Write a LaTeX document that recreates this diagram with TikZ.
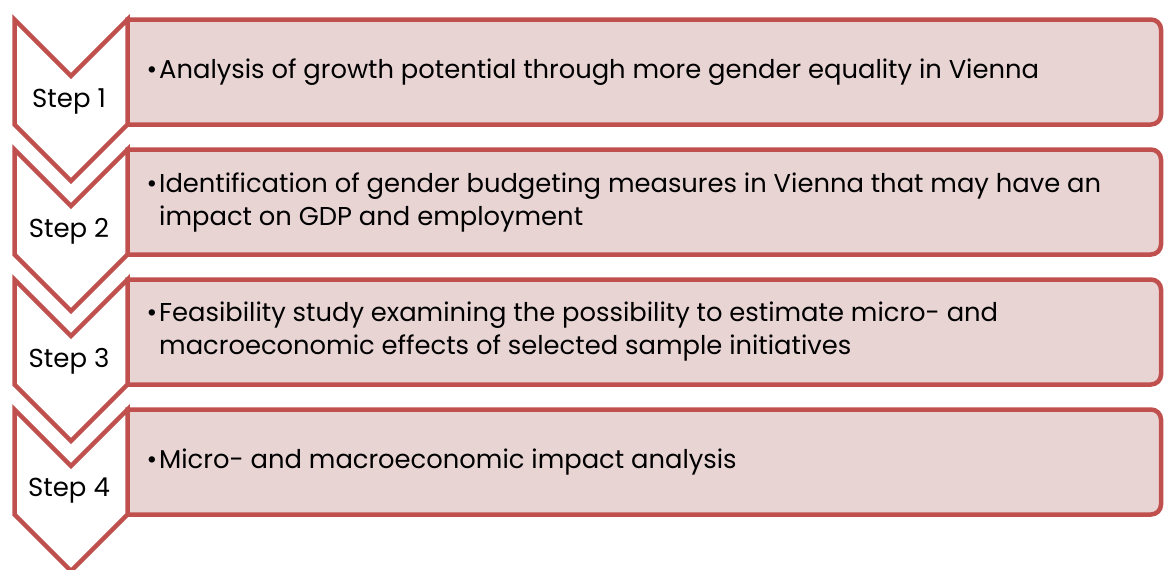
\documentclass[tikz,border=0pt]{standalone}
\usepackage{fontspec}
\setmainfont{Poppins}
\definecolor{stepred}{HTML}{C0504D}
\definecolor{steppink}{HTML}{E9D4D4}

\begin{document}
\begin{tikzpicture}[x=1pt,y=-1pt,
	stepbox/.style={draw=stepred,fill=steppink,line width=4.5pt},
	chevron/.style={draw=stepred,fill=white,line width=4.5pt},
	steplabel/.style={font=\fontsize{26}{30}\selectfont,inner sep=0},
	steptext/.style={font=\fontsize{25.8}{33}\selectfont,align=left,anchor=west,inner sep=0}]
	\useasboundingbox (0,0) rectangle (1165,570);
	% boxes, rounded on the right only
	\draw[stepbox] (127.5,19.5) [rounded corners=10pt] -- (1161,19.5) -- (1161,124.5) [sharp corners] -- (127.5,124.5) -- cycle;
	\draw[stepbox] (127.5,149.5) [rounded corners=10pt] -- (1161,149.5) -- (1161,254.5) [sharp corners] -- (127.5,254.5) -- cycle;
	\draw[stepbox] (127.5,279.5) [rounded corners=10pt] -- (1161,279.5) -- (1161,384.5) [sharp corners] -- (127.5,384.5) -- cycle;
	\draw[stepbox] (127.5,409.5) [rounded corners=10pt] -- (1161,409.5) -- (1161,514.5) [sharp corners] -- (127.5,514.5) -- cycle;
	% chevrons
	\draw[chevron] (14.5,19.5) -- (71,76) -- (127.5,19.5) -- (127.5,124.5) -- (71,181) -- (14.5,124.5) -- cycle;
	\draw[chevron] (14.5,149.5) -- (71,206) -- (127.5,149.5) -- (127.5,254.5) -- (71,311) -- (14.5,254.5) -- cycle;
	\draw[chevron] (14.5,279.5) -- (71,336) -- (127.5,279.5) -- (127.5,384.5) -- (71,441) -- (14.5,384.5) -- cycle;
	\draw[chevron] (14.5,409.5) -- (71,466) -- (127.5,409.5) -- (127.5,514.5) -- (71,571) -- (14.5,514.5) -- cycle;
	% labels
	\node[steplabel] (step1) at (69,101) {Step 1};
	\node[steplabel] (step2) at (69,231) {Step 2};
	\node[steplabel] (step3) at (69,361) {Step 3};
	\node[steplabel] (step4) at (69,491) {Step 4};
	\node[steptext] (desc1) at (159,72) {\makebox[0pt][r]{\textbullet\hspace{2pt}}Analysis of growth potential through more gender equality in Vienna};
	\node[steptext] (desc2) at (159,202) {\makebox[0pt][r]{\textbullet\hspace{2pt}}Identification of gender budgeting measures in Vienna that may have an\\impact on GDP and employment};
	\node[steptext] (desc3) at (159,332) {\makebox[0pt][r]{\textbullet\hspace{2pt}}Feasibility study examining the possibility to estimate micro- and\\macroeconomic effects of selected sample initiatives};
	\node[steptext] (desc4) at (159,462) {\makebox[0pt][r]{\textbullet\hspace{2pt}}Micro- and macroeconomic impact analysis};
\end{tikzpicture}
\end{document}
